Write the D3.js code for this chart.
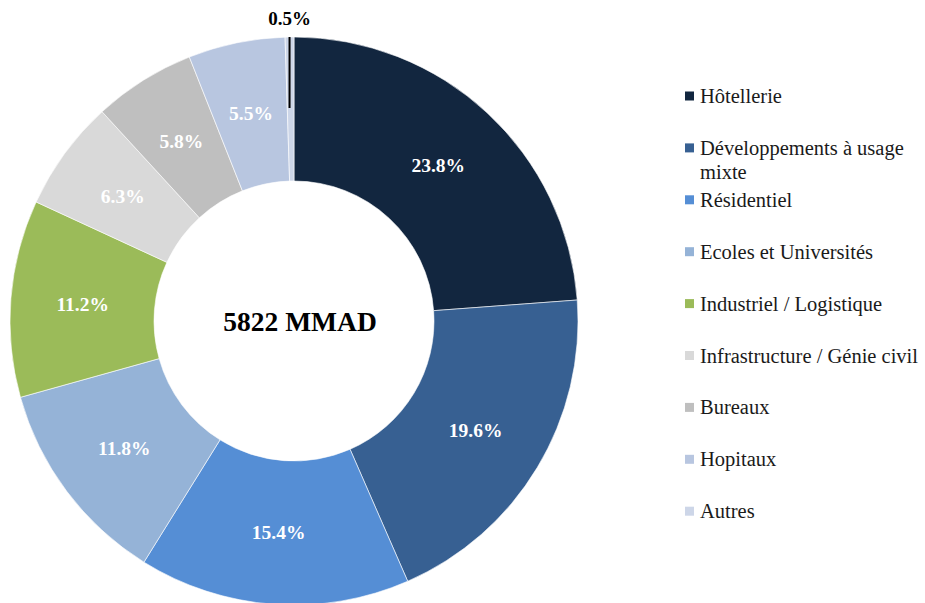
<!DOCTYPE html>
<html>
<head>
<meta charset="utf-8">
<script src="https://cdn.jsdelivr.net/npm/d3@7"></script>
<style>
  body { margin: 0; background: #fff; }
</style>
</head>
<body>
<div id="chart"></div>
<script>
/* Donut chart: répartition par secteur (5822 MMAD) */

const categories = ["Hôtellerie", "Développements à usage mixte", "Résidentiel",
                    "Ecoles et Universités", "Industriel / Logistique",
                    "Infrastructure / Génie civil", "Bureaux", "Hopitaux", "Autres"];
const shares = [23.8, 19.6, 15.4, 11.8, 11.2, 6.3, 5.8, 5.5, 0.5];
const colors = ["#12263f", "#376092", "#558ed5", "#95b3d7", "#9bbb59",
                "#d9d9d9", "#bfbfbf", "#b8c6e0", "#cdd6e8"];
const legendLines = [["Hôtellerie"], ["Développements à usage", "mixte"], ["Résidentiel"],
                     ["Ecoles et Universités"], ["Industriel / Logistique"],
                     ["Infrastructure / Génie civil"], ["Bureaux"], ["Hopitaux"], ["Autres"]];
const totalLabel = "5822 MMAD";

const width = 925,
      height = 603,
      cx = 294, cy = 321,
      outerR = 284, innerR = 140;

const serif = "'Liberation Serif', 'DejaVu Serif', serif";

const data = categories.map((c, i) => ({key: c, value: shares[i], color: colors[i], lines: legendLines[i]}));

let svg = d3.select("#chart")
    .append("svg")
    .attr("width", width)
    .attr("height", height)
    .style("font-family", serif);

let pie = d3.pie().value(d => d.value).sort(null);
let arc = d3.arc().innerRadius(innerR).outerRadius(outerR);
let labelArc = d3.arc().innerRadius(212).outerRadius(212);

let g = svg.append("g").attr("transform", `translate(${cx},${cy})`);
let arcs = pie(data);

g.selectAll("path")
    .data(arcs)
    .join("path")
    .attr("d", arc)
    .attr("fill", d => d.data.color)
    .attr("stroke", "#fff")
    .attr("stroke-width", 0.6);

// labels inside slices (except the tiny one)
g.selectAll(".lbl")
    .data(arcs.filter(d => d.data.value > 1))
    .join("text")
    .attr("class", "lbl")
    .attr("transform", d => `translate(${labelArc.centroid(d)})`)
    .attr("text-anchor", "middle")
    .attr("dy", "0.35em")
    .style("font-size", "19.5px")
    .style("font-weight", "bold")
    .style("fill", "#fff")
    .text(d => d.data.value.toFixed(1) + "%");

// tiny slice: label above with a leader line
let small = arcs[arcs.length - 1];
let midA = (small.startAngle + small.endAngle) / 2;
let sx = outerR * Math.sin(midA);
g.append("line")
    .attr("x1", sx).attr("x2", sx)
    .attr("y1", -outerR).attr("y2", -outerR + 71)
    .attr("stroke", "#000")
    .attr("stroke-width", 2);
g.append("text")
    .attr("x", sx)
    .attr("y", -outerR - 12)
    .attr("text-anchor", "middle")
    .style("font-size", "19px")
    .style("font-weight", "bold")
    .style("fill", "#000")
    .text(small.data.value.toFixed(1) + "%");

// center total
g.append("text")
    .attr("x", 6)
    .attr("y", 0)
    .attr("dy", "0.35em")
    .attr("text-anchor", "middle")
    .style("font-size", "27.5px")
    .style("font-weight", "bold")
    .style("fill", "#000")
    .text(totalLabel);

// legend
let legend = svg.append("g").attr("transform", "translate(685,96)");
let item = legend.selectAll(".item")
    .data(data)
    .join("g")
    .attr("class", "item")
    .attr("transform", (d, i) => `translate(0,${i * 51.9})`);

item.append("rect")
    .attr("x", 0)
    .attr("y", -4.5)
    .attr("width", 9)
    .attr("height", 9)
    .attr("fill", d => d.color);

item.append("text")
    .attr("x", 15)
    .attr("y", 7)
    .style("font-size", "20.5px")
    .style("fill", "#1a1a1a")
    .selectAll("tspan")
    .data(d => d.lines)
    .join("tspan")
    .attr("x", 15)
    .attr("dy", (d, i) => i === 0 ? 0 : 24)
    .text(d => d);
</script>
</body>
</html>
